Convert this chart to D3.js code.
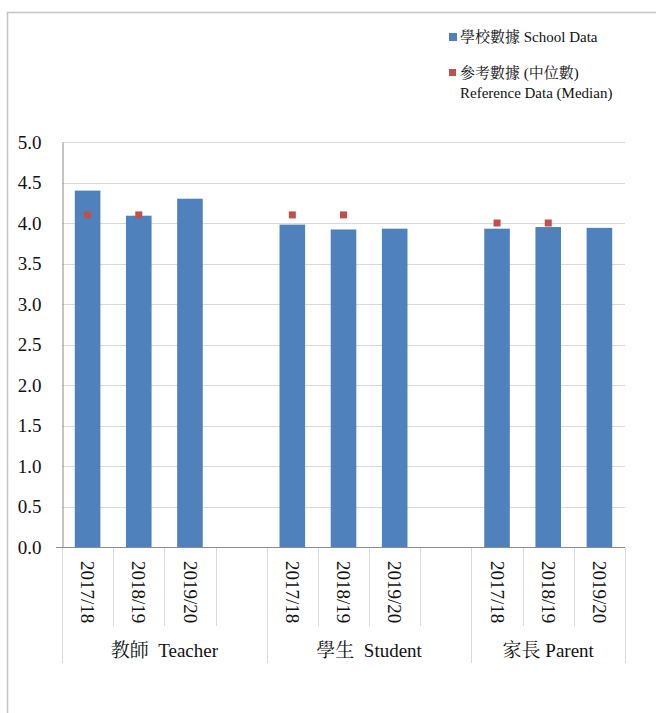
<!DOCTYPE html>
<html>
<head>
<meta charset="utf-8">
<script src="https://cdn.jsdelivr.net/npm/d3@7"></script>
<style>
  html, body { margin: 0; padding: 0; background: #fff; }
  svg { display: block; }
</style>
</head>
<body>
<script>
// ---- Data ----
const groups = ["教師  Teacher", "學生  Student", "家長 Parent"];
const years = ["2017/18", "2018/19", "2019/20"];
const schoolData = [4.40, 4.09, 4.30, 3.98, 3.92, 3.93, 3.93, 3.95, 3.94];
const referenceData = [4.1, 4.1, null, 4.1, 4.1, null, 4.0, 4.0, null];
const yTicks = [0, 0.5, 1.0, 1.5, 2.0, 2.5, 3.0, 3.5, 4.0, 4.5, 5.0];
const legendSchool = "學校數據 School Data";
const legendRef1 = "參考數據 (中位數)";
const legendRef2 = "Reference Data (Median)";

(function () {
const LATIN = '"Liberation Serif"';
const CJK = '"Noto Serif CJK TC"';
const W = 656, H = 713;
const svg = d3.select("body").append("svg").attr("width", W).attr("height", H);

// write text as runs: CJK runs in a CJK serif, others in Liberation Serif
function runs(sel, str) {
  sel.text(null).style("font-family", LATIN);
  const parts = str.match(/[\u3000-\u9fff\uf900-\ufaff]+|[^\u3000-\u9fff\uf900-\ufaff]+/g) || [];
  parts.forEach(p => {
    const cjk = /[\u3000-\u9fff\uf900-\ufaff]/.test(p);
    sel.append("tspan").style("font-family", cjk ? CJK : LATIN).text(p);
  });
}

// frame
svg.append("path")
  .attr("d", `M7.5,${H} V12.5 H${W}`)
  .attr("fill", "none").attr("stroke", "#c4c4c4").attr("stroke-width", 1.5);

// slots: 3 years per group + a blank slot between groups
const slots = [];
groups.forEach((g, gi) => {
  years.forEach((yr, yi) => slots.push({ key: gi + "|" + yr, group: gi, year: yr, idx: gi * 3 + yi }));
  if (gi < groups.length - 1) slots.push({ key: gi + "|blank", group: gi, year: null, idx: null });
});

const mLeft = 62, mRight = 625, mTop = 142, mBottom = 547;
const x = d3.scaleBand().domain(slots.map(d => d.key)).range([mLeft, mRight]).padding(0);
const y = d3.scaleLinear().domain([0, 5]).range([mBottom, mTop]);
const bw = x.bandwidth();

// gridlines
svg.append("g").selectAll("line").data(yTicks.filter(t => t > 0)).join("line")
  .attr("x1", mLeft).attr("x2", mRight)
  .attr("y1", d => Math.round(y(d)) + 0.5).attr("y2", d => Math.round(y(d)) + 0.5)
  .attr("stroke", "#d9d9d9").attr("stroke-width", 1);

// y axis
const yAxis = d3.axisLeft(y).tickValues(yTicks).tickFormat(d3.format(".1f")).tickSize(0).tickPadding(21);
const yg = svg.append("g").attr("transform", `translate(${mLeft + 0.5},0)`).call(yAxis);
yg.attr("font-family", null);
yg.select(".domain").attr("stroke", "#8c8c8c");
yg.selectAll("text").attr("font-size", 19).attr("fill", "#111").style("font-family", LATIN);

// bars
const yearSlots = slots.filter(d => d.year !== null);
svg.append("g").selectAll("rect").data(yearSlots).join("rect")
  .attr("x", d => x(d.key) + bw * 0.25)
  .attr("width", bw * 0.5)
  .attr("y", d => y(schoolData[d.idx]))
  .attr("height", d => y(0) - y(schoolData[d.idx]))
  .attr("fill", "#4f81bd");

// reference markers
const ms = 7;
svg.append("g").selectAll("rect").data(yearSlots.filter(d => referenceData[d.idx] !== null)).join("rect")
  .attr("x", d => x(d.key) + bw / 2 - ms / 2)
  .attr("y", d => y(referenceData[d.idx]) - ms / 2)
  .attr("width", ms).attr("height", ms)
  .attr("fill", "#c0504d");

// x axis line
svg.append("line").attr("x1", 56).attr("x2", mRight).attr("y1", mBottom + 0.5).attr("y2", mBottom + 0.5)
  .attr("stroke", "#8c8c8c");

// category separators
const xs = slots.map(d => x(d.key));
const groupStarts = [];
slots.forEach((d, i) => { if (i === 0 || slots[i - 1].group !== d.group) groupStarts.push(x(d.key)); });
groupStarts.push(mRight);
const yearSeps = xs.filter(v => !groupStarts.includes(v));
svg.append("g").selectAll("line").data(yearSeps).join("line")
  .attr("x1", d => Math.round(d) + 0.5).attr("x2", d => Math.round(d) + 0.5)
  .attr("y1", mBottom + 1).attr("y2", 626)
  .attr("stroke", "#d9d9d9");
svg.append("g").selectAll("line").data(groupStarts).join("line")
  .attr("x1", d => Math.round(d) + 0.5).attr("x2", d => Math.round(d) + 0.5)
  .attr("y1", mBottom + 1).attr("y2", 663)
  .attr("stroke", "#d9d9d9");

// year labels (rotated)
svg.append("g").selectAll("text").data(yearSlots).join("text")
  .attr("transform", d => `translate(${x(d.key) + bw / 2},561) rotate(90)`)
  .attr("dy", "0.33em")
  .attr("text-anchor", "start")
  .attr("font-size", 19)
  .attr("fill", "#111")
  .style("font-family", LATIN)
  .text(d => d.year);

// group labels
svg.append("g").selectAll("text").data(groups).join("text")
  .attr("x", (d, i) => (groupStarts[i] + groupStarts[i + 1]) / 2)
  .attr("y", 657)
  .attr("text-anchor", "middle")
  .attr("font-size", 19)
  .attr("fill", "#111")
  .style("white-space", "pre")
  .each(function (d) { runs(d3.select(this), d); });

// legend
const lg = svg.append("g");
lg.append("rect").attr("x", 449).attr("y", 33).attr("width", 8).attr("height", 8).attr("fill", "#4f81bd");
lg.append("rect").attr("x", 449).attr("y", 69).attr("width", 7).attr("height", 7).attr("fill", "#c0504d");
const legTexts = [
  { t: legendSchool, y: 42 },
  { t: legendRef1, y: 78 },
  { t: legendRef2, y: 98 }
];
lg.selectAll("text").data(legTexts).join("text")
  .attr("x", 460).attr("y", d => d.y)
  .attr("font-size", 15)
  .attr("fill", "#111")
  .style("white-space", "pre")
  .each(function (d) { runs(d3.select(this), d.t); });
})();
</script>
</body>
</html>
